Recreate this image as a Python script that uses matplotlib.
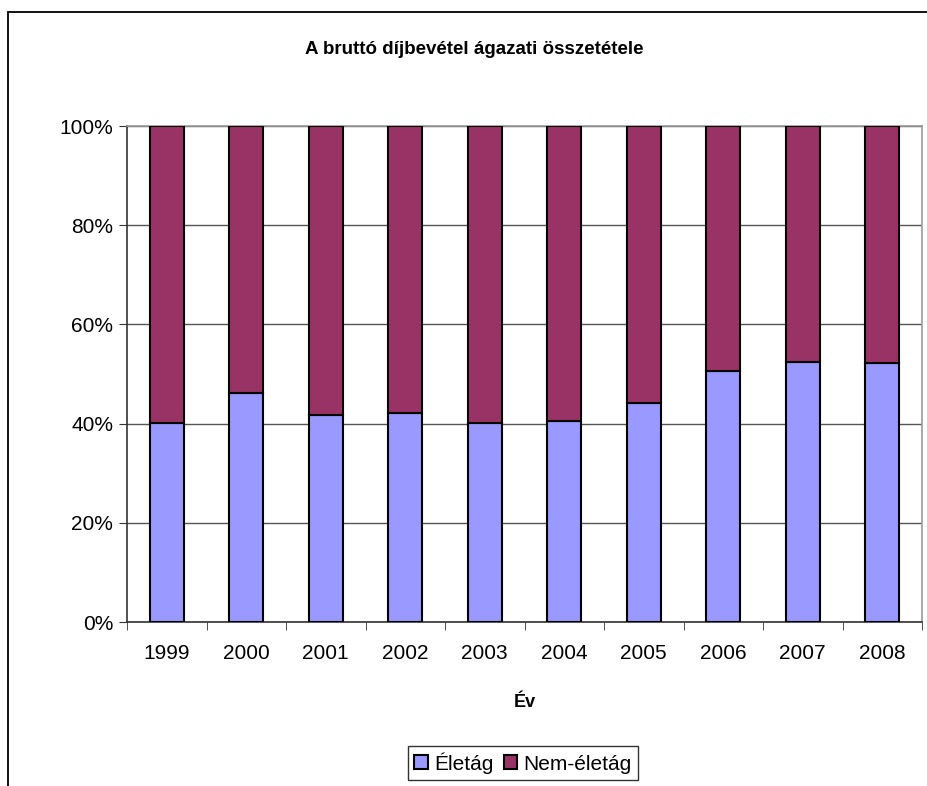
import matplotlib
matplotlib.use("Agg")
from matplotlib import pyplot as plt
from matplotlib.patches import Rectangle
from matplotlib.ticker import FuncFormatter, FixedLocator
import numpy as np

plt.rcParams['font.family'] = ['Liberation Sans', 'DejaVu Sans']

years = ["1999", "2000", "2001", "2002", "2003", "2004", "2005", "2006", "2007", "2008"]
eletag = [40.2, 46.2, 41.7, 42.1, 40.2, 40.6, 44.2, 50.7, 52.5, 52.2]
nem_eletag = [100 - v for v in eletag]

fig = plt.figure(figsize=(9.27, 7.86), dpi=100)
ax = fig.add_axes([127 / 927, 1 - 622 / 786, (922 - 127) / 927, (622 - 126) / 786])

# outer chart border (only left and top fall inside the image)
fig.patches.append(Rectangle((8 / 927, -0.1), 1.2, 1.1 - 12 / 786,
                             transform=fig.transFigure, fill=False,
                             edgecolor="black", linewidth=1.3))

x = np.arange(len(years))
w = 0.43
ax.bar(x, eletag, w, color="#9999FF", edgecolor="black", linewidth=1.5,
       label="Életág", zorder=3)
ax.bar(x, nem_eletag, w, bottom=eletag, color="#993366", edgecolor="black",
       linewidth=1.5, label="Nem-életág", zorder=3)

ax.set_xlim(-0.5, len(years) - 0.5)
ax.set_ylim(0, 100)
ax.set_yticks(np.arange(0, 101, 20))
ax.yaxis.set_major_formatter(FuncFormatter(lambda v, p: f"{int(v)}%"))
ax.yaxis.grid(True, color="#555555", linewidth=1.0, zorder=0)
ax.set_xticks(x)
ax.set_xticklabels(years, fontsize=15)
ax.tick_params(axis="x", length=0, pad=16)
ax.xaxis.set_minor_locator(FixedLocator(np.arange(-0.5, len(years), 1)))
ax.tick_params(axis="x", which="minor", length=6, color="#333333", direction="out")
ax.tick_params(axis="y", labelsize=15, length=6, color="#333333", direction="out", pad=4)

for side in ["left", "bottom"]:
    ax.spines[side].set_color("#333333")
    ax.spines[side].set_linewidth(1.2)
for side in ["right", "top"]:
    ax.spines[side].set_color("#999999")
    ax.spines[side].set_linewidth(1.2)

ax.set_xlabel("Év", fontsize=13, fontweight="bold", labelpad=22)
fig.text(0.512, 1 - 50 / 786, "A bruttó díjbevétel ágazati összetétele",
         ha="center", va="center", fontsize=13.5, fontweight="bold")

leg = fig.legend(loc="center", bbox_to_anchor=(523 / 927, 1 - 763 / 786), ncol=2,
                 fontsize=15, frameon=True, fancybox=False, edgecolor="black",
                 handlelength=0.65, handleheight=0.65, handletextpad=0.3,
                 columnspacing=0.5, borderpad=0.3)
leg.get_frame().set_linewidth(1.0)

fig.savefig("out.png", dpi=100)
